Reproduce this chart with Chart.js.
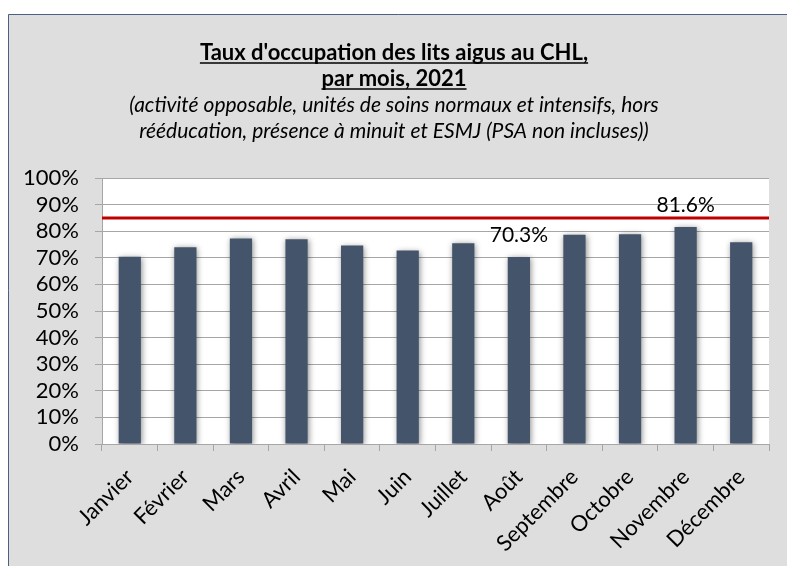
<!DOCTYPE html>
<html>
<head>
<meta charset="utf-8">
<script src="https://cdn.jsdelivr.net/npm/chart.js@4.4.1/dist/chart.umd.min.js"></script>
<style>
  html, body { margin: 0; padding: 0; background: #ffffff; }
  #c { display: block; }
</style>
</head>
<body>
<canvas id="c" width="787" height="566"></canvas>
<script>
// ---- data ----
const months = ['Janvier', 'Février', 'Mars', 'Avril', 'Mai', 'Juin', 'Juillet', 'Août', 'Septembre', 'Octobre', 'Novembre', 'Décembre'];
const occupancy = [70.4, 74.0, 77.3, 77.0, 74.6, 72.7, 75.5, 70.3, 78.7, 78.9, 81.6, 75.8];
const target = months.map(() => 85);
const titleLines = ["Taux d'occupation des lits aigus au CHL,", "par mois, 2021"];
const subtitleLines = ["(activité opposable, unités de soins normaux et intensifs, hors", "rééducation, présence à minuit et ESMJ (PSA non incluses))"];
const yTicks = [0, 10, 20, 30, 40, 50, 60, 70, 80, 90, 100];

const FONT = 'Lato, "Open Sans", sans-serif';

const minIdx = occupancy.indexOf(Math.min(...occupancy));
const maxIdx = occupancy.indexOf(Math.max(...occupancy));

const backgroundPlugin = {
  id: 'bg',
  beforeDraw(chart) {
    const ctx = chart.ctx, ca = chart.chartArea;
    ctx.save();
    ctx.fillStyle = '#ffffff';
    ctx.fillRect(0, 0, chart.width, chart.height);
    ctx.fillStyle = '#dedede';
    ctx.fillRect(8, 14, chart.width, chart.height);
    ctx.strokeStyle = '#4a6183';
    ctx.lineWidth = 1;
    ctx.beginPath();
    ctx.moveTo(8.5, chart.height + 2);
    ctx.lineTo(8.5, 14.5);
    ctx.lineTo(chart.width + 2, 14.5);
    ctx.stroke();
    ctx.fillStyle = '#ffffff';
    ctx.fillRect(ca.left, ca.top, ca.right - ca.left, ca.bottom - ca.top);
    ctx.restore();
  }
};

const titlePlugin = {
  id: 'titles',
  afterDraw(chart) {
    const ctx = chart.ctx;
    const cx = 394;
    ctx.save();
    ctx.fillStyle = '#000000';
    ctx.textAlign = 'center';
    ctx.textBaseline = 'alphabetic';
    ctx.font = 'bold 22px ' + FONT;
    const tBase = [60, 86];
    titleLines.forEach((t, i) => {
      ctx.fillText(t, cx, tBase[i]);
      const w = ctx.measureText(t).width;
      ctx.strokeStyle = '#000000';
      ctx.lineWidth = 1.5;
      ctx.beginPath();
      ctx.moveTo(cx - w / 2, tBase[i] + 3);
      ctx.lineTo(cx + w / 2, tBase[i] + 3);
      ctx.stroke();
    });
    ctx.font = 'italic 21px ' + FONT;
    const sBase = [112, 138];
    subtitleLines.forEach((t, i) => ctx.fillText(t, cx, sBase[i]));
    ctx.restore();
  }
};

const shadowPlugin = {
  id: 'barShadow',
  beforeDatasetDraw(chart, args) {
    if (args.index !== 0) return;
    const ctx = chart.ctx;
    ctx.save();
    ctx.shadowColor = 'rgba(0,0,0,0.45)';
    ctx.shadowBlur = 6;
    ctx.shadowOffsetX = 1;
    ctx.shadowOffsetY = 1;
  },
  afterDatasetDraw(chart, args) {
    if (args.index !== 0) return;
    chart.ctx.restore();
  }
};

const labelPlugin = {
  id: 'minmaxLabels',
  afterDatasetsDraw(chart) {
    const ctx = chart.ctx;
    const meta = chart.getDatasetMeta(0);
    ctx.save();
    ctx.fillStyle = '#000000';
    ctx.font = '21px ' + FONT;
    ctx.textAlign = 'center';
    ctx.textBaseline = 'alphabetic';
    [minIdx, maxIdx].forEach(i => {
      const el = meta.data[i];
      ctx.fillText(occupancy[i].toFixed(1) + '%', el.x, el.y - 15);
    });
    ctx.restore();
  }
};

new Chart(document.getElementById('c'), {
  type: 'bar',
  data: {
    labels: months,
    datasets: [
      {
        type: 'bar',
        data: occupancy,
        backgroundColor: '#44546a',
        borderWidth: 0,
        grouped: false,
        categoryPercentage: 1.0,
        barPercentage: 0.4,
        order: 2
      },
      {
        type: 'line',
        data: target,
        xAxisID: 'x2',
        borderColor: '#c00000',
        borderWidth: 3,
        pointRadius: 0,
        fill: false,
        order: 1
      }
    ]
  },
  options: {
    responsive: false,
    animation: false,
    devicePixelRatio: 1,
    layout: { padding: { top: 178, right: 18, bottom: 0, left: 0 } },
    plugins: {
      legend: { display: false },
      tooltip: { enabled: false },
      title: { display: false }
    },
    scales: {
      x: {
        type: 'category',
        offset: true,
        grid: {
          offset: true,
          drawOnChartArea: false,
          drawTicks: true,
          tickLength: 7,
          color: '#a6a6a6'
        },
        border: { color: '#a6a6a6', width: 1 },
        ticks: {
          maxRotation: 45,
          minRotation: 45,
          autoSkip: false,
          padding: 13,
          color: '#000000',
          font: { family: FONT, size: 22 }
        },
        afterFit(scale) { scale.height = 122; }
      },
      x2: {
        type: 'category',
        labels: months,
        offset: false,
        display: false
      },
      y: {
        min: 0,
        max: 100,
        afterBuildTicks(scale) { scale.ticks = yTicks.map(v => ({ value: v })); },
        grid: {
          color: '#a6a6a6',
          lineWidth: 1,
          tickLength: 7
        },
        border: { color: '#a6a6a6', width: 1 },
        ticks: {
          autoSkip: false,
          padding: 16,
          color: '#000000',
          font: { family: FONT, size: 22 },
          callback: v => v + '%'
        },
        afterFit(scale) { scale.width = 102; }
      }
    }
  },
  plugins: [backgroundPlugin, titlePlugin, shadowPlugin, labelPlugin]
});
</script>
</body>
</html>
